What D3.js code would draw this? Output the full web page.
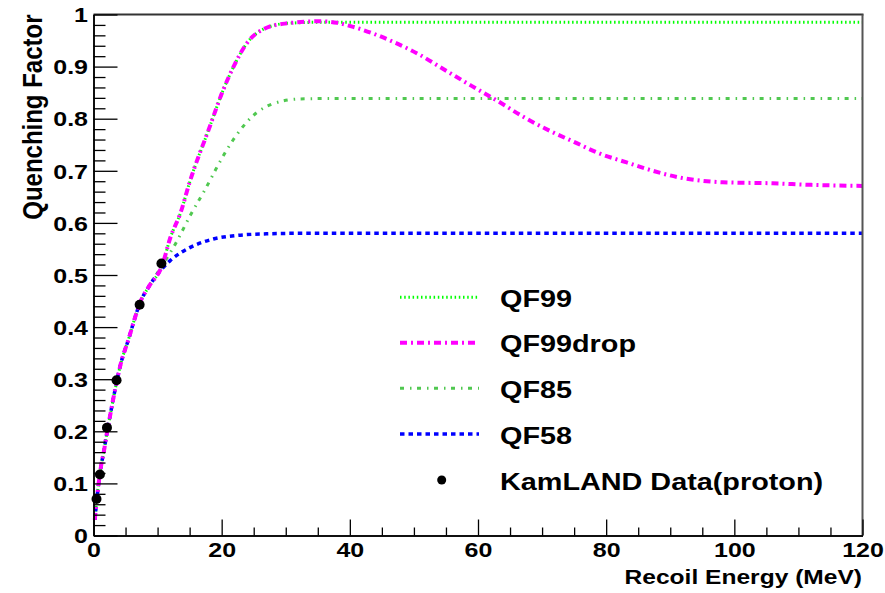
<!DOCTYPE html>
<html>
<head>
<meta charset="utf-8">
<script src="https://cdn.jsdelivr.net/npm/d3@7"></script>
<style>
  html, body { margin: 0; padding: 0; background: #fff; }
  svg { display: block; }
  text { font-family: "Liberation Sans", Arial, sans-serif; font-weight: bold; fill: #000; }
</style>
</head>
<body>
<svg id="chart" width="885" height="593"></svg>
<script>
// ---------------- data ----------------
const xTickValues = [0, 20, 40, 60, 80, 100, 120];
const yTickValues = [0, 0.1, 0.2, 0.3, 0.4, 0.5, 0.6, 0.7, 0.8, 0.9, 1];
const yTickLabels = ["0", "0.1", "0.2", "0.3", "0.4", "0.5", "0.6", "0.7", "0.8", "0.9", "1"];

const qf99Energy = [0.2, 0.4, 0.8, 1.2, 1.6, 2.0, 2.65, 3.5, 4.2, 5.5, 6.5, 7.3, 8.6, 10.7, 12.0, 13.6, 15.0, 18.0, 20.3, 21.9, 24.0, 27.1, 30.2, 35, 40, 60, 80, 100, 120];
const qf99Value  = [0.030, 0.055, 0.100, 0.135, 0.160, 0.190, 0.234, 0.288, 0.327, 0.378, 0.419, 0.448, 0.477, 0.518, 0.572, 0.620, 0.678, 0.780, 0.857, 0.901, 0.946, 0.975, 0.983, 0.985, 0.985, 0.985, 0.985, 0.985, 0.985];

const qf99dropEnergy = [0.2, 0.4, 0.8, 1.2, 1.6, 2.0, 2.65, 3.5, 4.2, 5.5, 6.5, 7.3, 8.6, 10.7, 12.0, 13.6, 15.0, 18.0, 20.3, 21.9, 24.0, 27.1, 30.2, 35.4, 38, 40.6, 46.5, 50.7, 54.9, 59.0, 63.2, 67.3, 71.5, 74.9, 79.0, 83.2, 85.2, 91.5, 98.2, 106, 112, 120];
const qf99dropValue  = [0.030, 0.055, 0.100, 0.135, 0.160, 0.190, 0.234, 0.288, 0.327, 0.378, 0.419, 0.448, 0.477, 0.518, 0.572, 0.620, 0.678, 0.780, 0.857, 0.901, 0.946, 0.975, 0.983, 0.987, 0.984, 0.976, 0.949, 0.924, 0.893, 0.863, 0.833, 0.802, 0.775, 0.756, 0.733, 0.716, 0.708, 0.687, 0.678, 0.676, 0.673, 0.671];

const qf85Energy = [0.2, 0.4, 0.8, 1.2, 1.6, 2.0, 2.65, 3.5, 4.2, 5.5, 6.5, 7.3, 8.6, 10.7, 12.8, 15.0, 17.5, 19.8, 22.4, 25.5, 28.1, 32.3, 40, 60, 80, 100, 120];
const qf85Value  = [0.030, 0.055, 0.100, 0.135, 0.160, 0.190, 0.234, 0.288, 0.327, 0.378, 0.419, 0.448, 0.477, 0.518, 0.560, 0.612, 0.666, 0.719, 0.770, 0.812, 0.829, 0.838, 0.839, 0.839, 0.839, 0.839, 0.839];

const qf58Energy = [0.2, 0.4, 0.8, 1.2, 1.6, 2.0, 2.65, 3.5, 4.2, 5.5, 6.5, 7.3, 8.6, 10.7, 12.0, 15.1, 18.7, 22.4, 27, 32, 40, 60, 80, 100, 120];
const qf58Value  = [0.030, 0.055, 0.100, 0.135, 0.160, 0.190, 0.234, 0.288, 0.327, 0.378, 0.419, 0.448, 0.477, 0.512, 0.528, 0.553, 0.569, 0.576, 0.579, 0.580, 0.580, 0.580, 0.580, 0.580, 0.580];

const kamlandEnergy = [0.47, 1.0, 2.1, 3.6, 7.2, 10.6];
const kamlandValue  = [0.070, 0.117, 0.207, 0.298, 0.443, 0.522];

const seriesNames = ["QF99", "QF99drop", "QF85", "QF58"];
const dataName = "KamLAND Data(proton)";

// ---------------- layout & style ----------------
const svg = d3.select("#chart");
const L = 93.5, R = 862.5, T = 14.5, B = 535.5;
const x = d3.scaleLinear().domain([0, 120]).range([L, R]);
const y = d3.scaleLinear().domain([0, 1]).range([B, T]);

const styles = {
  "QF99":     { color: "#00ff00", width: 3,   dash: "1.5,2.7" },
  "QF99drop": { color: "#ff00ff", width: 4,   dash: "7,4,2,4" },
  "QF85":     { color: "#50c850", width: 3,   dash: "4,6,1.5,5.5" },
  "QF58":     { color: "#0000ff", width: 3.5, dash: "4.5,4" }
};
const seriesData = {
  "QF99": qf99Energy.map((e, i) => [e, qf99Value[i]]),
  "QF99drop": qf99dropEnergy.map((e, i) => [e, qf99dropValue[i]]),
  "QF85": qf85Energy.map((e, i) => [e, qf85Value[i]]),
  "QF58": qf58Energy.map((e, i) => [e, qf58Value[i]])
};

// ---------------- curves ----------------
const line = d3.line().x(d => x(d[0])).y(d => y(d[1])).curve(d3.curveMonotoneX);
const curves = svg.append("g");
["QF99", "QF85", "QF58", "QF99drop"].forEach(name => {
  const s = styles[name];
  curves.append("path")
    .datum(seriesData[name])
    .attr("d", line)
    .attr("fill", "none")
    .attr("stroke", s.color)
    .attr("stroke-width", s.width)
    .attr("stroke-dasharray", s.dash);
});

// data points
svg.append("g").selectAll("circle")
  .data(kamlandEnergy.map((e, i) => [e, kamlandValue[i]]))
  .join("circle")
  .attr("cx", d => x(d[0]))
  .attr("cy", d => y(d[1]))
  .attr("r", 5)
  .attr("fill", "#000");

// ---------------- frame ----------------
svg.append("line").attr("x1", L).attr("x2", R + 1).attr("y1", T).attr("y2", T)
  .attr("stroke", "#333").attr("stroke-width", 2);
svg.append("line").attr("x1", R).attr("x2", R).attr("y1", T).attr("y2", B)
  .attr("stroke", "#555").attr("stroke-width", 2);

// ---------------- axes ----------------
const xMinor = d3.range(0, 121, 5).filter(v => v % 20 !== 0);
const yMinor = d3.range(0, 51, 1).map(v => v / 50).filter((v, i) => i % 5 !== 0);

const gx = svg.append("g").attr("transform", `translate(0,${B})`);
gx.call(d3.axisBottom(x).tickValues(xTickValues).tickSizeInner(-16).tickSizeOuter(0).tickFormat(d3.format("d")));
gx.append("g").call(d3.axisBottom(x).tickValues(xMinor).tickSizeInner(-8).tickSizeOuter(0).tickFormat(""));
gx.selectAll(".domain").attr("stroke", "#000").attr("stroke-width", 1.5);
gx.selectAll(".tick line").attr("stroke", "#000").attr("stroke-width", 1.3);
gx.selectAll(".tick text")
  .attr("y", 21.5).attr("dy", 0)
  .attr("font-size", 20)
  .attr("font-family", null)
  .attr("transform", "scale(1.25,1)");

const gy = svg.append("g").attr("transform", `translate(${L},0)`);
gy.call(d3.axisLeft(y).tickValues(yTickValues).tickSizeInner(-24).tickSizeOuter(0)
  .tickFormat((d, i) => yTickLabels[i]));
gy.append("g").call(d3.axisLeft(y).tickValues(yMinor).tickSizeInner(-12).tickSizeOuter(0).tickFormat(""));
gy.selectAll(".domain").attr("stroke", "#000").attr("stroke-width", 1.5);
gy.selectAll(".tick line").attr("stroke", "#000").attr("stroke-width", 1.3);
gy.selectAll(".tick text")
  .attr("x", -5.5 / 1.25).attr("dy", "0.36em")
  .attr("font-size", 20)
  .attr("font-family", null)
  .attr("transform", "scale(1.25,1)");
svg.selectAll(".tick text").attr("fill", "#000");

// axis titles
svg.append("g").attr("transform", `translate(862,583.5) scale(1.26,1)`)
  .append("text").attr("text-anchor", "end").attr("font-size", 19.5)
  .text("Recoil Energy (MeV)");
svg.append("g").attr("transform", `translate(42,14.5) scale(1.17,1) rotate(-90)`)
  .append("text").attr("text-anchor", "end").attr("font-size", 24)
  .text("Quenching Factor");

// ---------------- legend ----------------
const legendY = [297.3, 342.7, 388.3, 434, 480];
const legend = svg.append("g");
seriesNames.forEach((name, i) => {
  const s = styles[name];
  legend.append("line")
    .attr("x1", 400).attr("x2", 479).attr("y1", legendY[i]).attr("y2", legendY[i])
    .attr("stroke", s.color).attr("stroke-width", s.width).attr("stroke-dasharray", s.dash);
  legend.append("g").attr("transform", `translate(500,${legendY[i] + 9.5}) scale(1.2,1)`)
    .append("text").attr("font-size", 24).text(name);
});
legend.append("circle").attr("cx", 441.7).attr("cy", legendY[4]).attr("r", 4.5).attr("fill", "#000");
legend.append("g").attr("transform", `translate(500,${legendY[4] + 9.5}) scale(1.2,1)`)
  .append("text").attr("font-size", 24).text(dataName);
</script>
</body>
</html>
